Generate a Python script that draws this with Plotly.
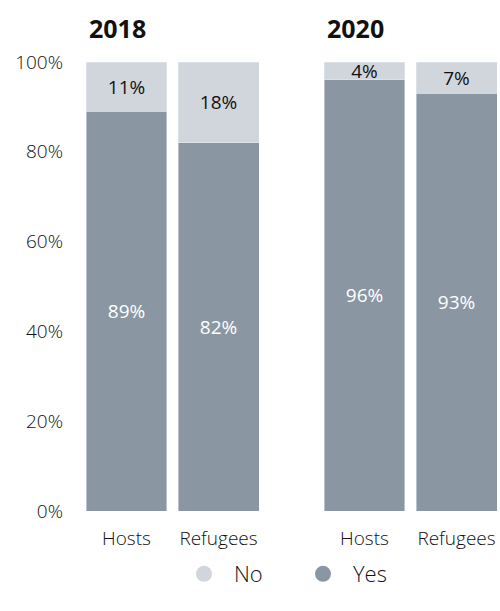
import plotly.graph_objects as go

years = ["2018", "2020"]
groups = ["Hosts", "Refugees"]
yes_2018 = [89, 82]
no_2018 = [11, 18]
yes_2020 = [96, 93]
no_2020 = [4, 7]
yticks = [0, 20, 40, 60, 80, 100]
yticklabels = ["0%", "20%", "40%", "60%", "80%", "100%"]

YES_C = "#8a97a3"
NO_C = "#d1d6dd"
FONT = "Open Sans"

W, H = 500, 611

fig = go.Figure()
data = {"2018": (yes_2018, no_2018), "2020": (yes_2020, no_2020)}
for i, yr in enumerate(years):
    yes, no = data[yr]
    xa = "x" if i == 0 else "x2"
    fig.add_trace(go.Bar(x=groups, y=yes, marker_color=YES_C, name="Yes",
                         text=[f"{v}%" for v in yes], textposition="inside",
                         insidetextanchor="middle", constraintext="none",
                         textfont=dict(color="#ffffff", size=19, family=FONT, weight=400),
                         showlegend=False, xaxis=xa, yaxis="y", hoverinfo="skip"))
    fig.add_trace(go.Bar(x=groups, y=no, marker_color=NO_C, name="No",
                         text=[f"{v}%" for v in no], textposition="inside",
                         insidetextanchor="middle", constraintext="none",
                         textfont=dict(color="#111111", size=19, family=FONT, weight=500),
                         showlegend=False, xaxis=xa, yaxis="y", hoverinfo="skip"))

# legend entries
fig.add_trace(go.Scatter(x=[None], y=[None], mode="markers", name="No",
                         marker=dict(color=NO_C, size=16, symbol="circle"), xaxis="x", yaxis="y"))
fig.add_trace(go.Scatter(x=[None], y=[None], mode="markers", name="Yes",
                         marker=dict(color=YES_C, size=16, symbol="circle"), xaxis="x", yaxis="y"))

top, bottom = 62, 511
ydom = [(H - bottom) / H, (H - top) / H]

xaxis_common = dict(type="category", range=[-0.44, 1.44], showgrid=False, zeroline=False,
                    showline=False, ticks="", ticklabelstandoff=14,
                    tickfont=dict(size=19, color="#111111", family=FONT, weight=350),
                    fixedrange=True)
fig.update_layout(
    width=W, height=H,
    margin=dict(l=0, r=0, t=0, b=0, autoexpand=False),
    paper_bgcolor="white", plot_bgcolor="white",
    barmode="stack", bargap=0.12,
    font=dict(family=FONT, color="#222222"),
    xaxis=dict(domain=[86 / W, 259 / W], anchor="y", **xaxis_common),
    xaxis2=dict(domain=[324 / W, 497 / W], anchor="y", **xaxis_common),
    yaxis=dict(domain=ydom, range=[0, 100], tickvals=yticks, ticktext=yticklabels,
               showgrid=False, zeroline=False, showline=False, ticks="",
               ticklabelstandoff=22,
               tickfont=dict(size=19, color="#111111", family=FONT, weight=350),
               fixedrange=True),
    legend=dict(orientation="h", x=293 / W, xanchor="center", y=(H - 574) / H,
                yanchor="middle", traceorder="normal",
                font=dict(size=22, color="#111111", family=FONT, weight=350),
                itemwidth=50, entrywidth=54, tracegroupgap=0),
    annotations=[
        dict(text="<b>2018</b>", x=87 / W, y=(H - 28) / H, xref="paper", yref="paper",
             xanchor="left", yanchor="middle", showarrow=False,
             font=dict(size=25, color="#111111", family=FONT)),
        dict(text="<b>2020</b>", x=325 / W, y=(H - 28) / H, xref="paper", yref="paper",
             xanchor="left", yanchor="middle", showarrow=False,
             font=dict(size=25, color="#111111", family=FONT)),
    ],
)

fig.write_html("out.html", config={"displayModeBar": False},
               post_script="document.body.style.margin='0';document.body.style.overflow='hidden';")
